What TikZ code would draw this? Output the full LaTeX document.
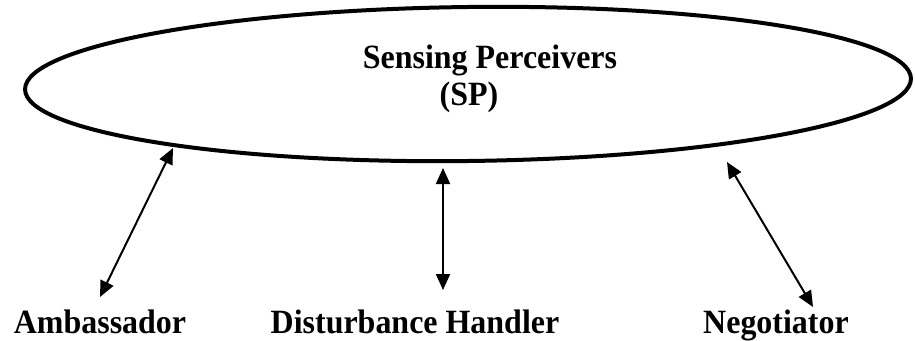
\documentclass[tikz,border=0pt]{standalone}
\usepackage{fontspec}
\setmainfont{Liberation Serif}
\usetikzlibrary{shapes.geometric,arrows.meta}
\tikzset{
  lbl/.style={font=\bfseries\fontsize{34}{38}\selectfont, inner sep=0pt, anchor=base},
  biarrow/.style={line width=2pt, {Triangle[length=16pt,width=14pt]}-{Triangle[length=16pt,width=14pt]}},
}
\newcommand{\cond}[1]{\scalebox{0.94}[1]{#1}}
\begin{document}
\begin{tikzpicture}[x=1pt,y=-1pt]
\useasboundingbox (0,0) rectangle (915,340);
\node[ellipse, draw, line width=4pt, minimum width=886pt, minimum height=154pt, inner sep=0pt, rotate=0.7] (sp) at (468,84) {};
\node[lbl] (spname) at (490,68) {\cond{Sensing Perceivers}};
\node[lbl] (spabbr) at (469,105) {\cond{(SP)}};
\node[lbl] (amb) at (100,333) {\cond{Ambassador}};
\node[lbl] (dist) at (415,333) {\cond{Disturbance Handler}};
\node[lbl] (neg) at (776,333) {\cond{Negotiator}};
\coordinate (a1) at (173,148);
\coordinate (a2) at (100,297);
\coordinate (d1) at (443,168);
\coordinate (d2) at (443,290);
\coordinate (n1) at (727,162);
\coordinate (n2) at (813,307);
\draw[biarrow] (a1) -- (a2);
\draw[biarrow] (d1) -- (d2);
\draw[biarrow] (n1) -- (n2);
\end{tikzpicture}
\end{document}
